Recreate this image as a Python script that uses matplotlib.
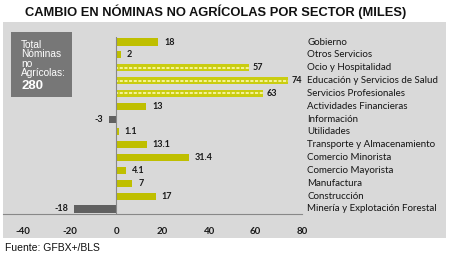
import matplotlib
matplotlib.use("Agg")
import matplotlib.pyplot as plt
from matplotlib.patches import Rectangle
from matplotlib.transforms import blended_transform_factory

categories = ["Gobierno", "Otros Servicios", "Ocio y Hospitalidad",
              "Educación y Servicios de Salud", "Servicios Profesionales",
              "Actividades Financieras", "Información", "Utilidades",
              "Transporte y Almacenamiento", "Comercio Minorista",
              "Comercio Mayorista", "Manufactura", "Construcción",
              "Minería y Explotación Forestal"]
values = [18, 2, 57, 74, 63, 13, -3, 1.1, 13.1, 31.4, 4.1, 7, 17, -18]
value_labels = ["18", "2", "57", "74", "63", "13", "-3", "1.1", "13.1", "31.4", "4.1", "7", "17", "-18"]
hatched = ["Ocio y Hospitalidad", "Educación y Servicios de Salud", "Servicios Profesionales"]
xticks = [-40, -20, 0, 20, 40, 60, 80]
title = "CAMBIO EN NÓMINAS NO AGRÍCOLAS POR SECTOR (MILES)"
source = "Fuente: GFBX+/BLS"
box_text = "Total\nNóminas\nno\nAgrícolas:"
box_value = "280"

W, H = 449, 256
fig = plt.figure(figsize=(W / 100, H / 100), dpi=100)
fig.patch.set_facecolor("white")

# gray panel
fig.patches.append(Rectangle((3 / W, 1 - 238 / H), 443 / W, 216 / H,
                             transform=fig.transFigure, facecolor="#D9D9D9",
                             edgecolor="none", zorder=-2))
# summary box
fig.patches.append(Rectangle((11 / W, 1 - 97 / H), 61 / W, 65 / H,
                             transform=fig.transFigure, facecolor="#777777",
                             edgecolor="none", zorder=-1))

x_left, x_right = 3, 302
y_top, y_bot = 37, 214
ax = fig.add_axes([x_left / W, 1 - y_bot / H, (x_right - x_left) / W, (y_bot - y_top) / H])
ax.set_facecolor("none")
ax.set_zorder(1)
ax.set_xlim(-48.7, 80)
ax.set_ylim(13.39, -0.39)

lab_kw = dict(va="center", fontsize=6.5, fontweight="bold", family="Lato",
              color="#1A1A1A", textcoords="offset pixels")
ypos = list(range(len(categories)))
for y, c, v, lab in zip(ypos, categories, values, value_labels):
    if v < 0:
        ax.barh(y, v, height=0.55, color="#606060", zorder=2)
        ax.annotate(lab, (v, y), xytext=(-6, 0), ha="right", **lab_kw)
    elif c in hatched:
        ax.barh(y, v, height=0.55, facecolor="#CACD10", edgecolor="none", zorder=2)
        ax.hlines(y, 0, v, color="#F6F49A", linewidth=1.4,
                  linestyles=[(0.5, (1.6, 0.8))], zorder=3)
        ax.annotate(lab, (v, y), xytext=(4, 0), ha="left", **lab_kw)
    else:
        ax.barh(y, v, height=0.55, color="#BFBF00", zorder=2)
        ax.annotate(lab, (v, y), xytext=(6, 0), ha="left", **lab_kw)

trans = blended_transform_factory(fig.transFigure, ax.transData)
for y, c in zip(ypos, categories):
    ax.text(307 / W, y, c, transform=trans, ha="left", va="center",
            fontsize=7, family="Lato", color="#151515", clip_on=False)

ax.axvline(0, color="#888888", linewidth=0.8, zorder=4)
for s in ["top", "right", "left"]:
    ax.spines[s].set_visible(False)
ax.spines["bottom"].set_color("#888888")
ax.spines["bottom"].set_linewidth(0.8)
ax.set_yticks([])
ax.set_xticks(xticks)
ax.set_xticklabels([str(t) for t in xticks], fontsize=7, fontweight="bold",
                   family="Lato", color="#1A1A1A")
ax.tick_params(axis="x", length=0, pad=9)

fig.text(25 / W, 1 - 12 / H, title, ha="left", va="center", fontsize=9.3,
         fontweight="bold", family="Liberation Sans", color="#111111")
fig.text(5 / W, 1 - 248 / H, source, ha="left", va="center", fontsize=7.5,
         family="Liberation Sans", color="#111111")
fig.text(21 / W, 1 - 59 / H, box_text, ha="left", va="center", fontsize=7.3,
         family="Liberation Sans", color="white", linespacing=0.95)
fig.text(21 / W, 1 - 86 / H, box_value, ha="left", va="center", fontsize=9.5,
         fontweight="bold", family="Liberation Sans", color="white")

fig.savefig("out.png", dpi=100)
